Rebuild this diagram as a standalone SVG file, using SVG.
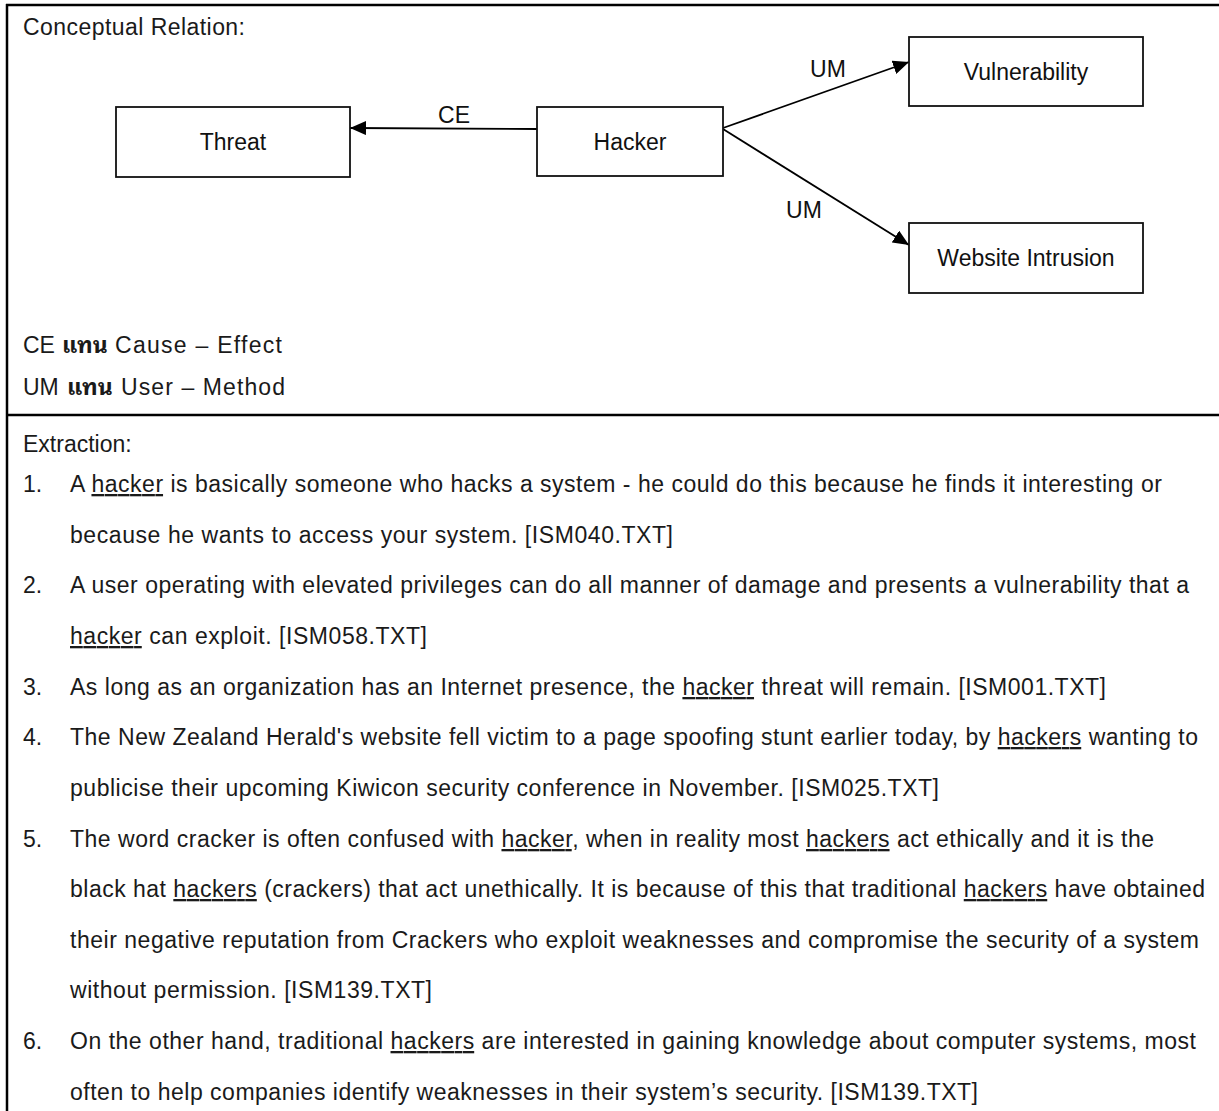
<svg xmlns="http://www.w3.org/2000/svg" width="1219" height="1111" viewBox="0 0 1219 1111">
  <style>
    .frame { stroke: #000; stroke-width: 2.5; fill: none; }
    .box { fill: #fff; stroke: #111; stroke-width: 1.8; }
    .edge { stroke: #000; stroke-width: 1.8; fill: none; }
    .nodeText { font-family: "Liberation Sans", Arial, sans-serif; font-size: 23px; fill: #111; text-anchor: middle; }
    .edgeLabel { font-family: "Liberation Sans", Arial, sans-serif; font-size: 23px; fill: #111; text-anchor: middle; }
    .body { font-family: "Liberation Sans", Arial, sans-serif; font-size: 23px; fill: #1a1a1a; }
    .thai { font-family: "Noto Sans Thai Looped", "Noto Serif Thai", "Loma", "Garuda", "Noto Sans Thai", sans-serif; font-size: 23px; font-weight: bold; fill: #1a1a1a; }
    .u { text-decoration: underline; }
  </style>
  <defs>
    <marker id="arrow" viewBox="0 0 16 14" refX="16" refY="7" markerWidth="16" markerHeight="14" markerUnits="userSpaceOnUse" orient="auto">
      <path d="M0,0 L16,7 L0,14 Z" fill="#000"/>
    </marker>
  </defs>

  <!-- table frame -->
  <line class="frame" x1="6" y1="5" x2="1219" y2="5"/>
  <line class="frame" x1="7" y1="4" x2="7" y2="1111"/>
  <line class="frame" x1="7" y1="415" x2="1219" y2="415"/>

  <text class="body" x="23" y="35" textLength="222" lengthAdjust="spacing">Conceptual Relation:</text>

  <!-- connectors -->
  <g id="connectors">
    <line class="edge" x1="537" y1="129" x2="350" y2="128" marker-end="url(#arrow)"/>
    <line class="edge" x1="723" y1="128" x2="909" y2="62" marker-end="url(#arrow)"/>
    <line class="edge" x1="723" y1="129" x2="909" y2="245" marker-end="url(#arrow)"/>
    <text class="edgeLabel" x="454" y="123">CE</text>
    <text class="edgeLabel" x="828" y="77">UM</text>
    <text class="edgeLabel" x="804" y="218">UM</text>
  </g>

  <!-- nodes -->
  <g id="node-threat">
    <rect class="box" x="116" y="107" width="234" height="70"/>
    <text class="nodeText" x="233" y="150">Threat</text>
  </g>
  <g id="node-hacker">
    <rect class="box" x="537" y="107" width="186" height="69"/>
    <text class="nodeText" x="630" y="150">Hacker</text>
  </g>
  <g id="node-vulnerability">
    <rect class="box" x="909" y="37" width="234" height="69"/>
    <text class="nodeText" x="1026" y="80">Vulnerability</text>
  </g>
  <g id="node-website-intrusion">
    <rect class="box" x="909" y="223" width="234" height="70"/>
    <text class="nodeText" x="1026" y="266">Website Intrusion</text>
  </g>

  <!-- legend -->
  <text class="body" x="23" y="353">CE</text>
  <text class="thai" x="62" y="353">แทน</text>
  <text class="body" x="115" y="353" textLength="167" lengthAdjust="spacing">Cause – Effect</text>
  <text class="body" x="23" y="395">UM</text>
  <text class="thai" x="67" y="395">แทน</text>
  <text class="body" x="121" y="395" textLength="164" lengthAdjust="spacing">User – Method</text>

  <!-- extraction list -->
  <text class="body" x="23" y="452">Extraction:</text>

  <text class="body" x="23" y="492">1.</text>
  <text class="body" x="70" y="492" textLength="1092" lengthAdjust="spacing">A <tspan class="u">hacker</tspan> is basically someone who hacks a system - he could do this because he finds it interesting or</text>
  <text class="body" x="70" y="543" textLength="603" lengthAdjust="spacing">because he wants to access your system. [ISM040.TXT]</text>

  <text class="body" x="23" y="593">2.</text>
  <text class="body" x="70" y="593" textLength="1119" lengthAdjust="spacing">A user operating with elevated privileges can do all manner of damage and presents a vulnerability that a</text>
  <text class="body" x="70" y="644" textLength="357" lengthAdjust="spacing"><tspan class="u">hacker</tspan> can exploit. [ISM058.TXT]</text>

  <text class="body" x="23" y="695">3.</text>
  <text class="body" x="70" y="695" textLength="1036" lengthAdjust="spacing">As long as an organization has an Internet presence, the <tspan class="u">hacker</tspan> threat will remain. [ISM001.TXT]</text>

  <text class="body" x="23" y="745">4.</text>
  <text class="body" x="70" y="745" textLength="1128" lengthAdjust="spacing">The New Zealand Herald's website fell victim to a page spoofing stunt earlier today, by <tspan class="u">hackers</tspan> wanting to</text>
  <text class="body" x="70" y="796" textLength="869" lengthAdjust="spacing">publicise their upcoming Kiwicon security conference in November. [ISM025.TXT]</text>

  <text class="body" x="23" y="847">5.</text>
  <text class="body" x="70" y="847" textLength="1084" lengthAdjust="spacing">The word cracker is often confused with <tspan class="u">hacker</tspan>, when in reality most <tspan class="u">hackers</tspan> act ethically and it is the</text>
  <text class="body" x="70" y="897" textLength="1135" lengthAdjust="spacing">black hat <tspan class="u">hackers</tspan> (crackers) that act unethically. It is because of this that traditional <tspan class="u">hackers</tspan> have obtained</text>
  <text class="body" x="70" y="948" textLength="1129" lengthAdjust="spacing">their negative reputation from Crackers who exploit weaknesses and compromise the security of a system</text>
  <text class="body" x="70" y="998" textLength="362" lengthAdjust="spacing">without permission. [ISM139.TXT]</text>

  <text class="body" x="23" y="1049">6.</text>
  <text class="body" x="70" y="1049" textLength="1126" lengthAdjust="spacing">On the other hand, traditional <tspan class="u">hackers</tspan> are interested in gaining knowledge about computer systems, most</text>
  <text class="body" x="70" y="1100" textLength="908" lengthAdjust="spacing">often to help companies identify weaknesses in their system’s security. [ISM139.TXT]</text>
</svg>
